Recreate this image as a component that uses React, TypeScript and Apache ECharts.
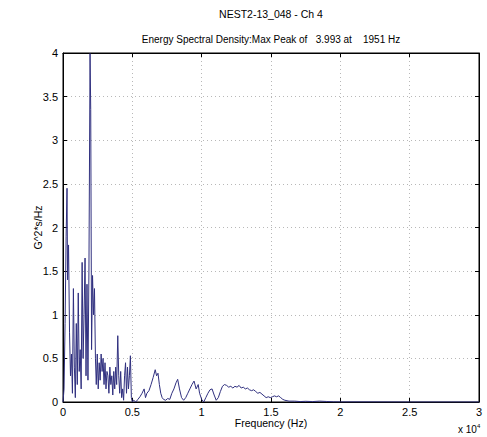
import React, { useEffect, useRef } from "react";
import * as echarts from "echarts";

const titleMain = "NEST2-13_048 - Ch 4";
const titleSub = "Energy Spectral Density:Max Peak of   3.993 at    1951 Hz";
const xName = "Frequency (Hz)";
const yName = "G^2*s/Hz";
const xTicks = [0, 5000, 10000, 15000, 20000, 25000, 30000];
const yTicks = [0, 0.5, 1, 1.5, 2, 2.5, 3, 3.5, 4];

const freqHz = [
  0, 75, 150, 225, 290, 330, 400, 470, 540, 610, 680, 750, 820, 890, 960, 1030,
  1100, 1170, 1240, 1310, 1380, 1450, 1520, 1590, 1660, 1730, 1800, 1870, 1951, 2000,
  2060, 2130, 2200, 2270, 2340, 2400, 2470, 2540, 2610, 2680, 2750, 2820, 2890, 2960,
  3030, 3100, 3170, 3240, 3310, 3380, 3450, 3520, 3590, 3660, 3730, 3800, 3870, 3950,
  4020, 4090, 4160, 4230, 4300, 4370, 4440, 4510, 4580, 4650, 4720, 4790, 4860, 4930,
  5000, 5100, 5250, 5400, 5550, 5700, 5850, 5950, 6050, 6200, 6350, 6500, 6650, 6750,
  6850, 6950, 7050, 7150, 7250, 7400, 7550, 7700, 7850, 8000, 8150, 8270, 8400, 8550,
  8700, 8850, 9000, 9150, 9300, 9450, 9600, 9750, 9850, 10000, 10150, 10300, 10450,
  10600, 10750, 10900, 11050, 11200, 11350, 11500, 11650, 11800, 11950, 12100, 12250,
  12400, 12550, 12700, 12850, 13000, 13150, 13300, 13450, 13600, 13750, 13900, 14050,
  14200, 14350, 14500, 14650, 14800, 14950, 15100, 15250, 15400, 15550, 15700, 15850,
  16000, 16300, 16700, 17100, 17500, 18000, 18500, 19000, 19500, 20000, 22000, 25000,
  28000, 30000,
];

const esd = [
  0.0, 0.15, 0.9, 1.9, 2.45, 1.4, 1.8, 0.8, 0.3, 0.55, 0.1, 1.3, 0.4, 0.05, 0.9, 0.2,
  1.25, 0.35, 0.6, 0.15, 1.6, 0.5, 1.0, 1.65, 0.3, 1.35, 0.25, 1.5, 3.993, 3.35,
  0.6, 1.45, 1.0, 1.3, 0.5, 0.2, 0.55, 0.15, 0.45, 0.25, 0.55, 0.35, 0.5, 0.2,
  0.45, 0.15, 0.35, 0.3, 0.1, 0.4, 0.2, 0.3, 0.08, 0.35, 0.15, 0.4, 0.2, 0.76,
  0.3, 0.1, 0.35, 0.05, 0.15, 0.02, 0.3, 0.45, 0.1, 0.4, 0.15, 0.3, 0.53, 0.05,
  0.0, 0.02, 0.0, 0.03, 0.06, 0.1, 0.15, 0.05, 0.1, 0.13, 0.2, 0.28, 0.37, 0.3,
  0.33, 0.2, 0.1, 0.05, 0.03, 0.02, 0.04, 0.03, 0.1, 0.15, 0.22, 0.26, 0.15, 0.05,
  0.02, 0.05, 0.1, 0.15, 0.2, 0.24, 0.15, 0.2, 0.1, 0.03, 0.0, 0.05, 0.1,
  0.14, 0.15, 0.08, 0.02, 0.05, 0.12, 0.18, 0.2, 0.19, 0.17, 0.18, 0.16,
  0.18, 0.17, 0.19, 0.16, 0.17, 0.15, 0.16, 0.14, 0.13, 0.14, 0.12, 0.1,
  0.11, 0.09, 0.07, 0.05, 0.06, 0.05, 0.06, 0.07, 0.06, 0.07, 0.05, 0.03,
  0.02, 0.01, 0.01, 0.005, 0.008, 0.005, 0.01, 0.006, 0.002, 0.001, 0.001, 0.0,
  0.0, 0.0,
];

const FONT = "'Liberation Sans', Arial, sans-serif";

export default function App() {
  const ref = useRef<HTMLDivElement>(null);
  useEffect(() => {
    if (!ref.current) return;
    const chart = echarts.init(ref.current, undefined, { renderer: "svg" });
    const data = freqHz.map((f, i) => [f, esd[i]]);
    const fmtX = (v: number) => String(v / 10000);
    const tickCommon = { show: true, inside: true, length: 4, lineStyle: { color: "#000" } };
    const splitStyle = { show: true, lineStyle: { color: "#b8b8b8", type: [1, 3], width: 1 } };
    chart.setOption({
      animation: false,
      backgroundColor: "#fff",
      textStyle: { fontFamily: FONT },
      grid: {
        left: 63,
        right: 8,
        top: 53,
        bottom: 35,
        show: true,
        borderColor: "#000",
        borderWidth: 1,
        backgroundColor: "#fff",
      },
      xAxis: [
        {
          type: "value",
          min: xTicks[0],
          max: xTicks[xTicks.length - 1],
          interval: 5000,
          name: xName,
          nameLocation: "middle",
          nameGap: 15,
          nameMoveOverlap: false,
          nameTextStyle: { color: "#000", fontSize: 10.5, fontFamily: FONT },
          axisLine: { show: true, onZero: false, lineStyle: { color: "#000" } },
          axisTick: tickCommon,
          axisLabel: { color: "#000", fontSize: 11, margin: 4, formatter: fmtX, fontFamily: FONT },
          splitLine: splitStyle,
        },
        {
          type: "value",
          position: "top",
          min: xTicks[0],
          max: xTicks[xTicks.length - 1],
          interval: 5000,
          axisLine: { show: true, onZero: false, lineStyle: { color: "#000" } },
          axisTick: tickCommon,
          axisLabel: { show: false },
          splitLine: { show: false },
        },
      ],
      yAxis: [
        {
          type: "value",
          min: yTicks[0],
          max: yTicks[yTicks.length - 1],
          interval: 0.5,
          name: yName,
          nameLocation: "middle",
          nameGap: 20,
          nameMoveOverlap: false,
          nameTextStyle: { color: "#000", fontSize: 10.5, fontFamily: FONT },
          axisLine: { show: true, onZero: false, lineStyle: { color: "#000" } },
          axisTick: tickCommon,
          axisLabel: { color: "#000", fontSize: 11, margin: 5, fontFamily: FONT },
          splitLine: splitStyle,
        },
        {
          type: "value",
          position: "right",
          min: yTicks[0],
          max: yTicks[yTicks.length - 1],
          interval: 0.5,
          axisLine: { show: true, onZero: false, lineStyle: { color: "#000" } },
          axisTick: tickCommon,
          axisLabel: { show: false },
          splitLine: { show: false },
        },
      ],
      graphic: [
        {
          type: "text",
          x: 271,
          y: 8,
          style: { text: titleMain, fill: "#000", font: `10.5px ${FONT}`, textAlign: "center" },
        },
        {
          type: "text",
          x: 271,
          y: 34,
          style: { text: titleSub, fill: "#000", font: `10px ${FONT}`, textAlign: "center" },
        },
        {
          type: "text",
          x: 458,
          y: 423,
          style: {
            text: "{a|x 10}{b|4}",
            fill: "#000",
            rich: {
              a: { fontSize: 10, fontFamily: FONT, fill: "#000" },
              b: { fontSize: 6, fontFamily: FONT, fill: "#000", verticalAlign: "top", padding: [0, 0, 6, 0] },
            },
          },
        },
      ],
      series: [
        {
          type: "line",
          data,
          showSymbol: false,
          clip: true,
          xAxisIndex: 0,
          yAxisIndex: 0,
          lineStyle: { color: "#30307f", width: 1 },
        },
      ],
    });
    return () => chart.dispose();
  }, []);
  return (
    <div
      ref={ref}
      style={{ position: "fixed", left: 0, top: 0, width: 487, height: 437 }}
    />
  );
}
